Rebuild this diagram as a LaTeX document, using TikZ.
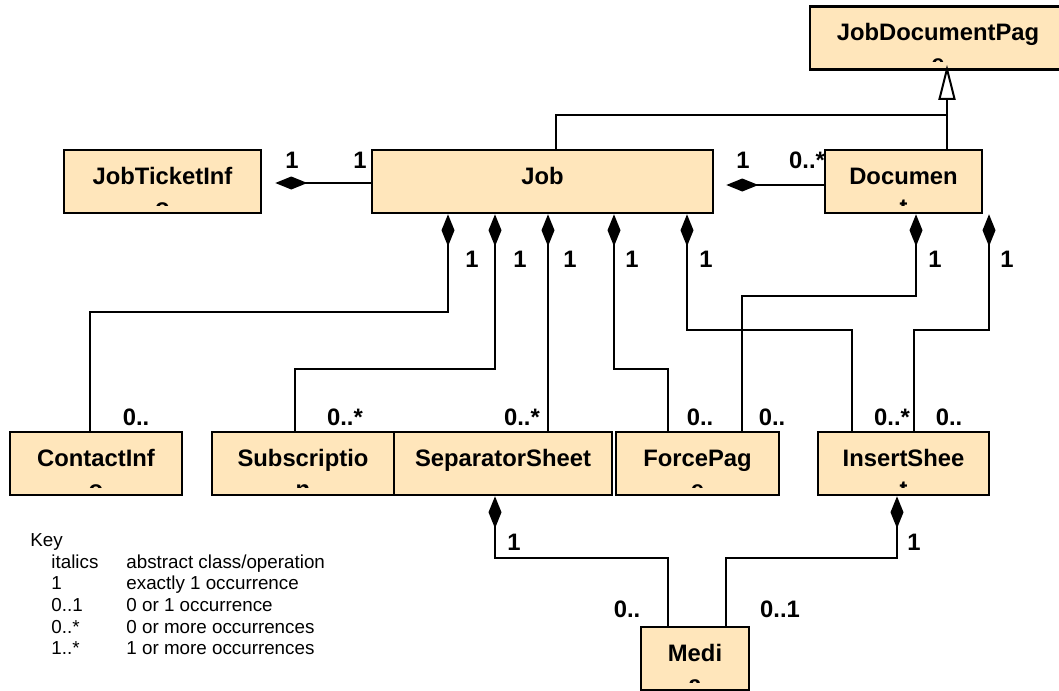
\documentclass[tikz,border=0pt]{standalone}
\usepackage{fontspec}
\setmainfont{Liberation Sans}
\usetikzlibrary{arrows.meta}
\definecolor{clsfill}{RGB}{255,230,187}

\tikzstyle{clstext} = [draw=none, fill=none, inner sep=0pt, anchor=base, font=\fontsize{11.9}{14}\selectfont\bfseries]
\tikzset{cls/.style 2 args={draw, line width=1.3pt, fill=clsfill, minimum height=31.5pt, inner sep=0pt,
    path picture={
      \clip ([yshift=4pt]path picture bounding box.south west) rectangle (path picture bounding box.north east);
      \node[clstext] at ([yshift=-17.25pt]path picture bounding box.north) {#1};
      \node[clstext] at ([yshift=-32.5pt]path picture bounding box.north) {#2};
    }}}
\tikzstyle{mult} = [inner sep=0pt, font=\fontsize{11.9}{14}\selectfont\bfseries]
\tikzstyle{link} = [line width=1pt]
\tikzstyle{compo} = [link, {Diamond[length=16pt, width=6.5pt]}-]
\tikzstyle{gen} = [link, -{Triangle[open, length=17.5pt, width=8.5pt, fill=white]}]
\tikzstyle{keytext} = [anchor=base west, inner sep=0pt, font=\fontsize{9.4}{11}\selectfont]

\begin{document}
\begin{tikzpicture}[x=0.5pt, y=-0.5pt]
	\useasboundingbox (0,0) rectangle (1059,690);
	% classes
	\node[cls={JobDocumentPag}{e}, minimum width=128pt] (jdp) at (938,38) {};
	\node[cls={JobTicketInf}{o}, minimum width=98.5pt] (jti) at (162.5,181.5) {};
	\node[cls={Job}{}, minimum width=170.5pt] (job) at (542.5,181.5) {};
	\node[cls={Documen}{t}, minimum width=78.5pt] (doc) at (903.5,181.5) {};
	\node[cls={ContactInf}{o}, minimum width=86pt] (contact) at (96,463.5) {};
	\node[cls={Subscriptio}{n}, minimum width=91pt] (subs) at (303,463.5) {};
	\node[cls={SeparatorSheet}{}, minimum width=109pt] (sep) at (503,463.5) {};
	\node[cls={ForcePag}{e}, minimum width=81.5pt] (force) at (697.5,463.5) {};
	\node[cls={InsertShee}{t}, minimum width=85.5pt] (insert) at (903.5,463.5) {};
	\node[cls={Medi}{a}, minimum width=54pt] (media) at (695,658.5) {};
	% generalization
	\draw[link] (job.north -| 556,0) |- (947,115);
	\draw[gen, shorten >=-3pt] (doc.north -| 947,0) -- (jdp.south -| 947,0);
	% compositions
	\draw[compo, shorten <=6.5pt] (jti.east |- 0,183) -- (job.west |- 0,183);
	\draw[compo, shorten <=6pt] (job.east |- 0,185) -- (doc.west |- 0,185);
	\draw[compo] (job.south -| 448,0) |- (90,312) -- (contact.north -| 90,0);
	\draw[compo] (job.south -| 495,0) |- (295,369) -- (subs.north -| 295,0);
	\draw[compo] (job.south -| 548,0) -- (sep.north -| 548,0);
	\draw[compo] (job.south -| 614,0) |- (668,369) -- (force.north -| 668,0);
	\draw[compo] (job.south -| 687,0) |- (852,330) -- (insert.north -| 852,0);
	\draw[compo] (doc.south -| 916,0) |- (742,296) -- (force.north -| 742,0);
	\draw[compo] (doc.south -| 989,0) |- (914,330) -- (insert.north -| 914,0);
	\draw[compo] (sep.south -| 495,0) |- (668,558) -- (media.north -| 668,0);
	\draw[compo] (insert.south -| 897,0) |- (726,558) -- (media.north -| 726,0);
	% multiplicities
	\node[mult] (m1) at (292,160) {1};
	\node[mult] (m2) at (360,160) {1};
	\node[mult] (m3) at (743,160) {1};
	\node[mult] (m4) at (807,160) {0..*};
	\node[mult] (m5) at (472,259) {1};
	\node[mult] (m6) at (520,259) {1};
	\node[mult] (m7) at (570,259) {1};
	\node[mult] (m8) at (632,259) {1};
	\node[mult] (m9) at (706,259) {1};
	\node[mult] (m10) at (935,259) {1};
	\node[mult] (m11) at (1007,259) {1};
	\node[mult] (m12) at (136,417) {0..};
	\node[mult] (m13) at (345,417) {0..*};
	\node[mult] (m14) at (522,417) {0..*};
	\node[mult] (m15) at (700,417) {0..};
	\node[mult] (m16) at (772,417) {0..};
	\node[mult] (m17) at (892,417) {0..*};
	\node[mult] (m18) at (949,417) {0..};
	\node[mult] (m19) at (514,542) {1};
	\node[mult] (m20) at (914,542) {1};
	\node[mult] (m21) at (627,609) {0..};
	\node[mult] (m22) at (780,609) {0..1};
	% key
	\node[keytext] (key) at (30,546) {Key};
	\node[keytext] (k1) at (51,568) {italics};
	\node[keytext] (d1) at (126,568) {abstract class/operation};
	\node[keytext] (k2) at (51,589) {1};
	\node[keytext] (d2) at (126,589) {exactly 1 occurrence};
	\node[keytext] (k3) at (51,611) {0..1};
	\node[keytext] (d3) at (126,611) {0 or 1 occurrence};
	\node[keytext] (k4) at (51,633) {0..*};
	\node[keytext] (d4) at (126,633) {0 or more occurrences};
	\node[keytext] (k5) at (51,654) {1..*};
	\node[keytext] (d5) at (126,654) {1 or more occurrences};
\end{tikzpicture}
\end{document}
